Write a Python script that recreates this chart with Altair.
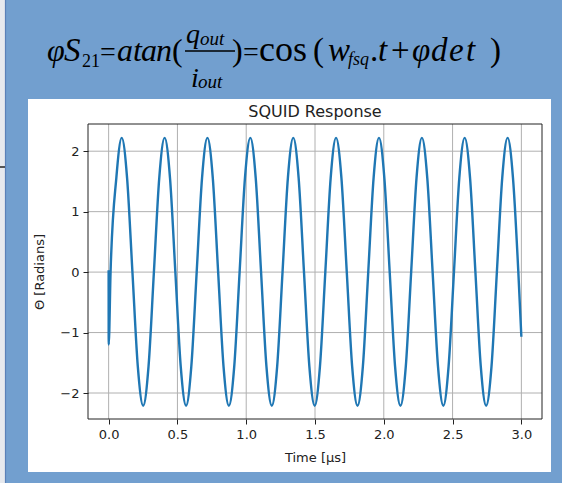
import altair as alt
import pandas as pd

# ---------------- data ----------------
X_TICKS = [0.0, 0.5, 1.0, 1.5, 2.0, 2.5, 3.0]
Y_TICKS = [-2, -1, 0, 1, 2]

# time [us] of the samples: start, then extrema / crossings / mid-levels of each swing
TIME_US = [
    0.0, 0.0005, 0.014, 0.056,
    0.095, 0.134, 0.173, 0.212, 0.251, 0.290, 0.329, 0.368,
    0.407, 0.446, 0.485, 0.524, 0.563, 0.601, 0.640, 0.679,
    0.718, 0.757, 0.796, 0.835, 0.874, 0.913, 0.952, 0.991,
    1.030, 1.069, 1.108, 1.147, 1.186, 1.225, 1.264, 1.303,
    1.342, 1.381, 1.420, 1.459, 1.498, 1.536, 1.575, 1.614,
    1.653, 1.692, 1.731, 1.770, 1.809, 1.848, 1.887, 1.926,
    1.965, 2.004, 2.043, 2.082, 2.121, 2.160, 2.199, 2.238,
    2.277, 2.316, 2.355, 2.394, 2.433, 2.471, 2.510, 2.549,
    2.588, 2.627, 2.666, 2.705, 2.744, 2.783, 2.822, 2.861,
    2.900, 2.939, 2.978, 3.000,
]
THETA_RAD = [
    0.03, -1.20, 0.00, 1.56,
    2.22, 1.56, 0.00, -1.56, -2.21, -1.56, 0.00, 1.56,
    2.22, 1.56, 0.00, -1.56, -2.21, -1.56, 0.00, 1.56,
    2.22, 1.56, 0.00, -1.56, -2.21, -1.56, 0.00, 1.56,
    2.22, 1.56, 0.00, -1.56, -2.21, -1.56, 0.00, 1.56,
    2.22, 1.56, 0.00, -1.56, -2.21, -1.56, 0.00, 1.56,
    2.22, 1.56, 0.00, -1.56, -2.21, -1.56, 0.00, 1.56,
    2.22, 1.56, 0.00, -1.56, -2.21, -1.56, 0.00, 1.56,
    2.22, 1.56, 0.00, -1.56, -2.21, -1.56, 0.00, 1.56,
    2.22, 1.56, 0.00, -1.56, -2.21, -1.56, 0.00, 1.56,
    2.22, 1.56, 0.00, -1.07,
]

TITLE = "SQUID Response"
X_TITLE = "Time [μs]"
Y_TITLE = "Θ [Radians]"

# equation glyphs (text, left x, baseline y, size, style) in page pixels
EQ_PIECES = [
    ("φ", 47, 61, 32, "italic"),
    ("S", 64, 61, 33, "italic"),
    ("21", 82, 67, 18, "normal"),
    ("=", 100, 61, 28, "normal"),
    ("a", 117, 61, 32, "italic"),
    ("t", 133, 61, 32, "italic"),
    ("a", 141, 61, 32, "italic"),
    ("n", 156, 61, 32, "italic"),
    ("(", 172, 61, 32, "normal"),
    ("q", 186, 43, 28, "italic"),
    ("out", 200, 45, 19, "italic"),
    ("i", 191, 87, 28, "italic"),
    ("out", 198, 88, 19, "italic"),
    (")", 232, 61, 32, "normal"),
    ("=", 243, 61, 28, "normal"),
    ("cos", 259, 61, 36, "normal"),
    ("(", 313, 61, 33, "normal"),
    ("w", 328, 61, 33, "italic"),
    ("fsq", 348, 65, 18, "italic"),
    (".", 370, 61, 33, "normal"),
    ("t", 378, 61, 33, "italic"),
    ("+", 391, 61, 33, "normal"),
    ("φ", 412, 61, 33, "italic"),
    ("d", 431, 61, 33, "italic"),
    ("e", 449, 61, 33, "italic"),
    ("t", 466, 61, 33, "italic"),
    (")", 490, 61, 33, "normal"),
]

# ---------------- layout ----------------
PAD_L, PAD_T = 88, 124
W, H = 454, 295
PAD_R = 562 - PAD_L - W
PAD_B = 483 - PAD_T - H

X_DOMAIN = [-0.15, 3.15]
Y_DOMAIN = [-2.43, 2.45]

INK = "#222222"
FONT = "DejaVu Sans"

x_axis = alt.Axis(
    values=X_TICKS, format=".1f", title=X_TITLE, grid=False, domain=False,
    tickSize=5, tickColor=INK, tickWidth=1,
    labelFont=FONT, labelFontSize=13, labelColor=INK, labelPadding=4,
    labelFlush=False, labelOverlap=False,
    titleFont=FONT, titleFontSize=13, titleFontWeight="normal", titleColor=INK,
    titlePadding=10, zindex=1,
)
y_axis = alt.Axis(
    values=Y_TICKS, format="d", title=Y_TITLE, grid=False, domain=False,
    tickSize=5, tickColor=INK, tickWidth=1,
    labelFont=FONT, labelFontSize=13, labelColor=INK, labelPadding=4,
    labelFlush=False, labelOverlap=False,
    titleFont=FONT, titleFontSize=13, titleFontWeight="normal", titleColor=INK,
    titlePadding=13, zindex=1,
)

x_enc = alt.X("t:Q", scale=alt.Scale(domain=X_DOMAIN, nice=False, zero=False), axis=x_axis)
y_enc = alt.Y("theta:Q", scale=alt.Scale(domain=Y_DOMAIN, nice=False, zero=False), axis=y_axis)

df = pd.DataFrame({"t": TIME_US, "theta": THETA_RAD})
gx = pd.DataFrame({"t": X_TICKS})
gy = pd.DataFrame({"theta": Y_TICKS})
one = pd.DataFrame({"k": [0]})


def px(x):
    return x - PAD_L


def py(y):
    return y - PAD_T


# slide decorations
left_strip = alt.Chart(one).mark_rect(fill="#e6e9ee").encode(
    x=alt.value(px(0)), x2=alt.value(px(5)), y=alt.value(py(0)), y2=alt.value(py(483))
)
left_line = alt.Chart(one).mark_rule(stroke="#5a80b8", strokeWidth=1.2).encode(
    x=alt.value(px(5.5)), y=alt.value(py(0)), y2=alt.value(py(483))
)
left_dash = alt.Chart(one).mark_rule(stroke="#555555", strokeWidth=2).encode(
    x=alt.value(px(0)), x2=alt.value(px(5)), y=alt.value(py(167))
)
white_panel = alt.Chart(one).mark_rect(fill="white").encode(
    x=alt.value(px(28)), x2=alt.value(px(551)), y=alt.value(py(99)), y2=alt.value(py(472))
)

grid_x = alt.Chart(gx).mark_rule(stroke="#b0b0b0", strokeWidth=1).encode(x=x_enc)
grid_y = alt.Chart(gy).mark_rule(stroke="#b0b0b0", strokeWidth=1).encode(y=y_enc)

line = alt.Chart(df).mark_line(
    color="#1f77b4", strokeWidth=2.4, interpolate="monotone"
).encode(x=x_enc, y=y_enc, order=alt.Order("t:Q"))

frame = alt.Chart(one).mark_rect(fillOpacity=0, stroke=INK, strokeWidth=1).encode(
    x=alt.value(0), x2=alt.value(W), y=alt.value(0), y2=alt.value(H)
)

title = alt.Chart(one).mark_text(
    text=TITLE, font=FONT, fontSize=16, color=INK, align="center", baseline="alphabetic"
).encode(x=alt.value(W / 2), y=alt.value(py(116.5)))

eq_layers = []
for txt, ex, ey, es, st in EQ_PIECES:
    eq_layers.append(
        alt.Chart(one).mark_text(
            text=txt, font="Liberation Serif", fontSize=es, fontStyle=st,
            color="#000000", align="left", baseline="alphabetic"
        ).encode(x=alt.value(px(ex)), y=alt.value(py(ey)))
    )
frac_bar = alt.Chart(one).mark_rule(stroke="#000000", strokeWidth=1.5).encode(
    x=alt.value(px(185)), x2=alt.value(px(235)), y=alt.value(py(51))
)

chart = alt.layer(
    left_strip, left_line, left_dash, white_panel, grid_x, grid_y, line, frame, title,
    frac_bar, *eq_layers,
).properties(
    width=W, height=H,
    autosize=alt.AutoSizeParams(type="none"),
    padding={"left": PAD_L, "top": PAD_T, "right": PAD_R, "bottom": PAD_B},
).configure(
    background="#729fcf",
).configure_view(strokeWidth=0)

chart.save("out.html", embed_options={"renderer": "svg", "actions": False})
